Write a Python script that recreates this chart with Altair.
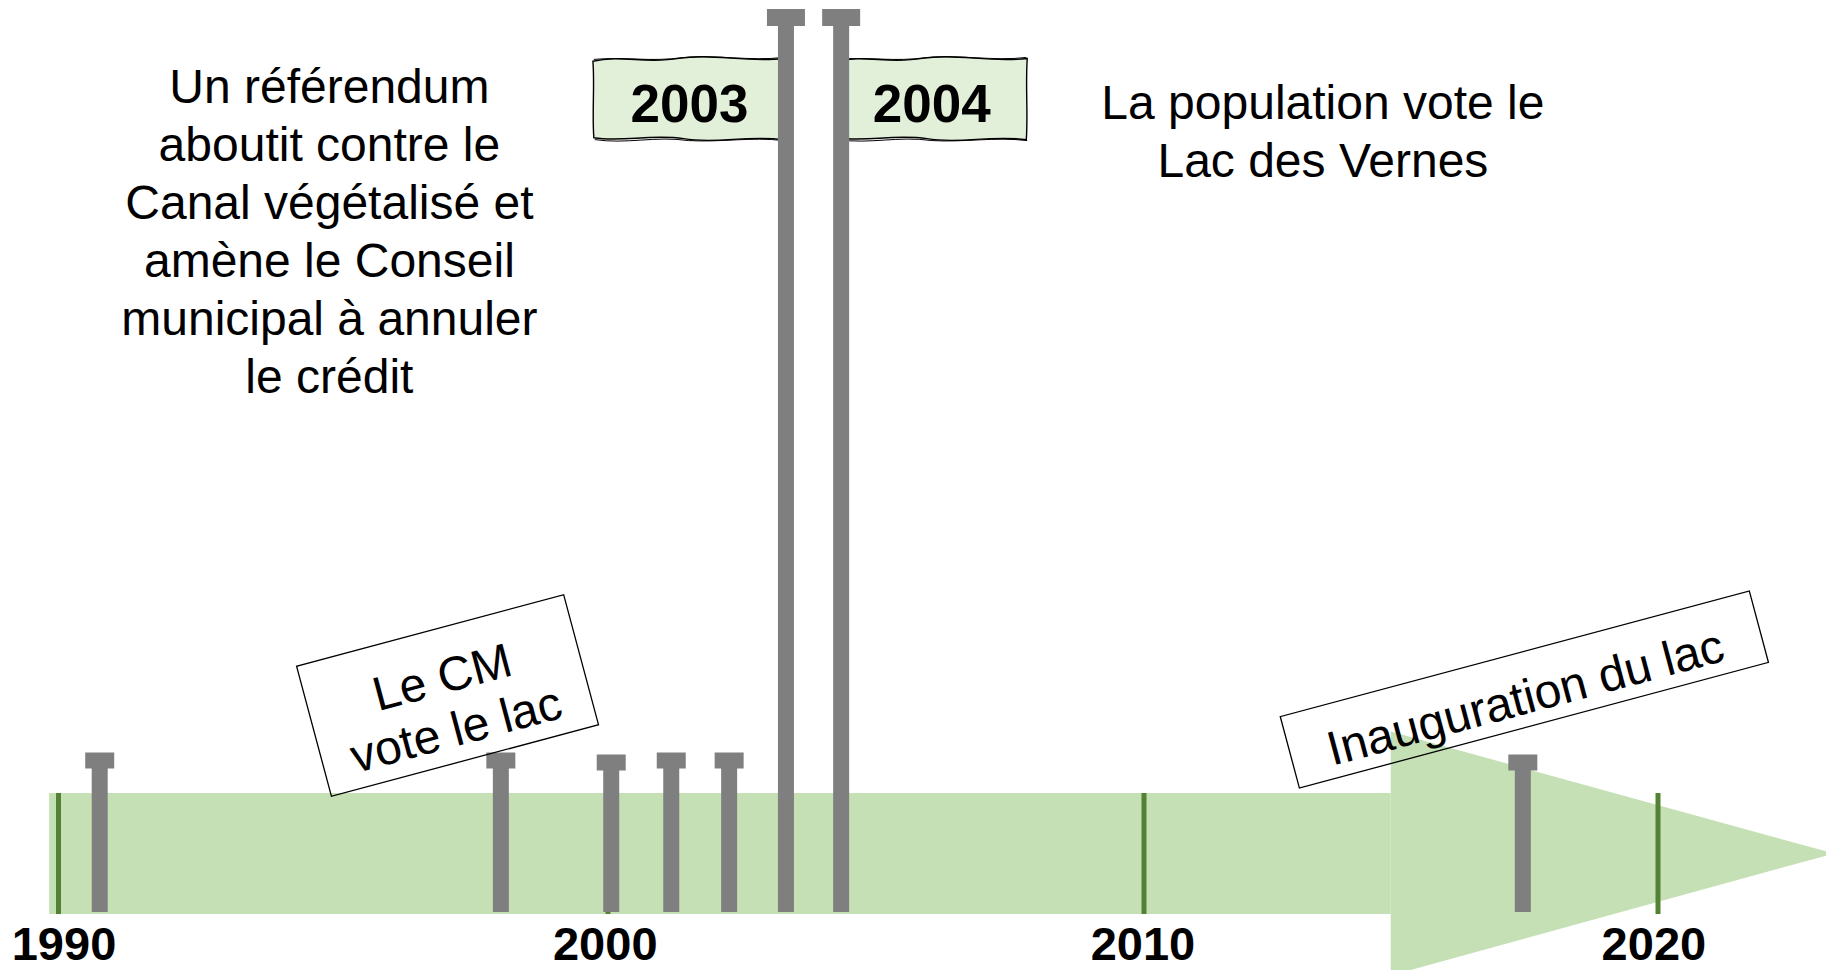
import altair as alt
import pandas as pd

# ---------------- data ----------------
decade_years = [1990, 2000, 2010, 2020]
decade_labels = ["1990", "2000", "2010", "2020"]
decade_label_years = [1990.1, 1999.95, 2009.98, 2019.92]

# event posts (year position) and cap height above the timeline
event_years = [1990.75, 1998.05, 2000.06, 2001.18, 2002.26, 2003.32, 2004.35, 2017.37]
event_kind = ["minor", "minor", "minor", "minor", "minor", "major", "major", "minor"]
event_cap = [93, 93, 91, 93, 93, 836, 836, 91]
post_base = -58.5

# the big timeline arrow (years on x, height above centre line on y)
arrow_start = 1989.83
arrow_head_base = 2014.8
arrow_tip = 2023.42
arrow_half = 60.5
arrow_head_half = 122

# flags on the two tall posts
flag_years = [2001.50, 2006.04]
flag_text_years = [2001.52, 2006.04]
flag_labels = ["2003", "2004"]
flag_level = 754
flag_text_level = 748

# free notes (level of the first line)
note_years = [1994.93, 2013.48]
note_levels = [765, 749]
note_texts = [
    "Un référendum\naboutit contre le\nCanal végétalisé et\namène le Conseil\nmunicipal à annuler\nle crédit",
    "La population vote le\nLac des Vernes",
]

# tilted sign boxes
sign_years = [1997.08, 2017.40]
sign_levels = [158, 164]
sign_text_years = [1996.99, 2017.43]
sign_text_levels = [174, 154]
sign_texts = ["Le CM\nvote le lac", "Inauguration du lac"]

# ---------------- styles ----------------
GREEN_LIGHT = "#c5e0b4"
GREEN_DARK = "#548235"
GREY = "#7f7f7f"
FLAG_FILL = "#e2f0d9"
FONT = "Liberation Sans"

W, H = 1818, 962
xs = alt.Scale(domain=decade_years, range=[50.5, 600, 1136, 1650], nice=False, zero=False)
ys = alt.Scale(domain=[-116.5, 845.5], nice=False, zero=False)


def X(f):
    return alt.X(f, type="quantitative", scale=xs, axis=None)


def Y(f):
    return alt.Y(f, type="quantitative", scale=ys, axis=None)


df_band = pd.DataFrame({"start": [arrow_start], "end": [arrow_head_base],
                        "lo": [-arrow_half], "hi": [arrow_half]})
df_head = pd.DataFrame({"x": [arrow_head_base, arrow_tip],
                        "lo": [-arrow_head_half, 0], "hi": [arrow_head_half, 0]})
df_dec = pd.DataFrame({"year": decade_years, "lo": [-arrow_half] * 4, "hi": [arrow_half] * 4})
df_dec_t = pd.DataFrame({"year": decade_label_years, "label": decade_labels, "lab": [-92] * 4})
df_ev = pd.DataFrame({"year": event_years, "kind": event_kind, "cap": event_cap,
                      "base": [post_base] * len(event_years)})
df_flag = pd.DataFrame({"year": flag_years, "lvl": [flag_level] * 2})
df_flag_t = pd.DataFrame({"year": flag_text_years, "label": flag_labels,
                          "lvl": [flag_text_level] * 2})
df_note = pd.DataFrame({"year": note_years, "lvl": note_levels, "text": note_texts})
df_sign = pd.DataFrame({"year": sign_years, "lvl": sign_levels})
df_sign_t = pd.DataFrame({"year": sign_text_years, "lvl": sign_text_levels, "text": sign_texts})

band = alt.Chart(df_band).mark_rect(color=GREEN_LIGHT, opacity=1).encode(
    x=X("start"), x2="end", y=Y("hi"), y2="lo")
head = alt.Chart(df_head).mark_area(color=GREEN_LIGHT, opacity=1).encode(
    x=X("x"), y=Y("hi"), y2="lo")
dec_marks = alt.Chart(df_dec).mark_rule(color=GREEN_DARK, strokeWidth=5).encode(
    x=X("year"), y=Y("hi"), y2="lo")
dec_text = alt.Chart(df_dec_t).mark_text(font=FONT, fontSize=47, fontWeight="bold",
                                         color="black", baseline="middle", align="center").encode(
    x=X("year"), y=Y("lab"), text="label:N")

wave = ("M-1,-0.40 C-0.7,-0.47 -0.45,-0.37 -0.1,-0.43 C0.25,-0.49 0.6,-0.38 1,-0.43 "
        "C0.98,-0.15 1.01,0.15 0.99,0.42 C0.6,0.37 0.3,0.47 -0.05,0.41 "
        "C-0.4,0.36 -0.7,0.45 -0.99,0.40 C-1.01,0.15 -0.98,-0.15 -1,-0.40 Z")
wave2 = ("M-0.99,-0.42 C-0.65,-0.45 -0.4,-0.39 -0.05,-0.44 C0.3,-0.47 0.65,-0.40 0.99,-0.44 "
         "M1,0.43 C0.65,0.39 0.35,0.45 0,0.43 C-0.35,0.38 -0.65,0.47 -0.98,0.42")
flags = alt.Chart(df_flag).mark_point(shape=wave, size=191 ** 2, filled=True, fill=FLAG_FILL,
                                      stroke="black", strokeWidth=1.4, opacity=1).encode(
    x=X("year"), y=Y("lvl"))
flags2 = alt.Chart(df_flag).mark_point(shape=wave2, size=191 ** 2, filled=False,
                                       color="black", strokeWidth=1, opacity=1).encode(
    x=X("year"), y=Y("lvl"))
flag_text = alt.Chart(df_flag_t).mark_text(font=FONT, fontSize=53, fontWeight="bold",
                                           color="black", baseline="middle", align="center").encode(
    x=X("year"), y=Y("lvl"), text="label:N")

posts = alt.Chart(df_ev).mark_rule(color=GREY, strokeWidth=16).encode(
    x=X("year"), y=Y("base"), y2="cap")
caps_minor = alt.Chart(df_ev).transform_filter(alt.datum.kind == "minor").mark_tick(
    orient="horizontal", size=29, thickness=16, color=GREY, opacity=1).encode(
    x=X("year"), y=Y("cap"))
caps_major = alt.Chart(df_ev).transform_filter(alt.datum.kind == "major").mark_tick(
    orient="horizontal", size=38, thickness=17, color=GREY, opacity=1).encode(
    x=X("year"), y=Y("cap"))

notes = alt.Chart(df_note).mark_text(font=FONT, fontSize=48, lineHeight=58, lineBreak="\n",
                                     color="black", baseline="middle", align="center").encode(
    x=X("year"), y=Y("lvl"), text="text:N")

sign1 = alt.Chart(df_sign.iloc[[0]]).mark_point(
    shape="M-1,-0.4868 L1,-0.4868 L1,0.4868 L-1,0.4868 Z", size=276.5 ** 2, angle=345,
    filled=False, color="black", strokeWidth=1.3, opacity=1).encode(x=X("year"), y=Y("lvl"))
sign2 = alt.Chart(df_sign.iloc[[1]]).mark_point(
    shape="M-1,-0.1522 L1,-0.1522 L1,0.1522 L-1,0.1522 Z", size=485.6 ** 2, angle=345,
    filled=False, color="black", strokeWidth=1.3, opacity=1).encode(x=X("year"), y=Y("lvl"))
sign_text = alt.Chart(df_sign_t).mark_text(font=FONT, fontSize=48, lineHeight=54, lineBreak="\n",
                                           angle=345, color="black", baseline="middle",
                                           align="center").encode(
    x=X("year"), y=Y("lvl"), text="text:N")

chart = alt.layer(
    band, head, dec_marks, flags, flags2, flag_text, posts, caps_minor, caps_major,
    dec_text, notes, sign1, sign2, sign_text,
).properties(
    width=W, height=H, padding=0, autosize=alt.AutoSizeParams(type="none"),
).configure_view(strokeWidth=0)

chart.save("out.html", embed_options={"renderer": "svg", "actions": False})
